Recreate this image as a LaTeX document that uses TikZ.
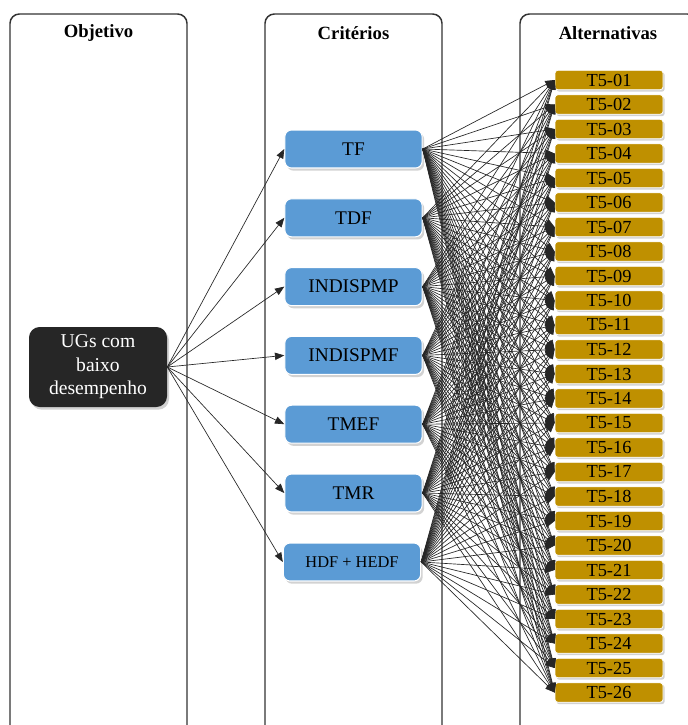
\documentclass[tikz,border=0pt]{standalone}
\usepackage{fontspec}
\setmainfont{LiberationSerif}[Extension=.ttf, UprightFont=*-Regular, BoldFont=*-Bold, ItalicFont=*-Italic, BoldItalicFont=*-BoldItalic]
\usetikzlibrary{shadows,arrows.meta}
\definecolor{critblue}{HTML}{5B9BD5}
\definecolor{altgold}{HTML}{BF9000}
\definecolor{objdark}{HTML}{262626}
\definecolor{colline}{HTML}{333333}
\tikzset{
  colbox/.style={draw=colline, line width=1.1pt, rounded corners=7pt},
  heading/.style={font=\fontsize{14}{16}\selectfont\bfseries, inner sep=0pt},
  objbox/.style={fill=objdark, text=white, rounded corners=8pt, minimum width=103.5pt, minimum height=60pt,
    align=center, font=\fontsize{14.7}{17.6}\selectfont, drop shadow={shadow xshift=1.5pt, shadow yshift=-2pt, opacity=0.35}},
  critbox/.style={fill=critblue, draw=white, line width=0.8pt, rounded corners=5pt, minimum width=103pt, minimum height=28.5pt,
    inner sep=0pt, font=\fontsize{14.5}{16}\selectfont, drop shadow={shadow xshift=1.5pt, shadow yshift=-2pt, opacity=0.35}},
  altbox/.style={fill=altgold, draw=white, line width=0.6pt, rounded corners=2pt, minimum width=81pt, minimum height=14.5pt,
    inner sep=0pt, font=\fontsize{13.8}{14}\selectfont, drop shadow={shadow xshift=1.2pt, shadow yshift=-1.5pt, opacity=0.35}},
  link/.style={draw=black!85, line width=0.5pt, -{Triangle[length=7pt,width=5.5pt]}},
}
\begin{document}
\begin{tikzpicture}[x=0.75pt, y=-0.75pt]
\clip (0,0) rectangle (688,725);
\fill[white] (0,0) rectangle (688,725);
% columns
\draw[colbox] (10,740) -- (10,14) -- (187,14) -- (187,740);
\draw[colbox] (265,740) -- (265,14) -- (442,14) -- (442,740);
\draw[colbox] (520,740) -- (520,14) -- (697,14) -- (697,740);
\node[heading] (h1) at (98.5,33) {Objetivo};
\node[heading] (h2) at (353.5,33) {Critérios};
\node[heading] (h3) at (608,33) {Alternativas};
% objective
\node[objbox] (ug) at (98,367) {UGs com\\baixo\\desempenho};
% criteria
\foreach \lab [count=\i] in {TF,TDF,INDISPMP,INDISPMF,TMEF,TMR}
  \node[critbox] (c\i) at (353.5,{149+68.8*(\i-1)}) {\lab};
\node[critbox, font=\fontsize{12.3}{14}\selectfont] (c7) at (352,562) {HDF + HEDF};
% alternatives
\foreach \i in {1,...,26}{
  \pgfmathsetmacro{\yy}{80+24.5*(\i-1)}
  \ifnum\i<10 \def\num{0\i}\else\def\num{\i}\fi
  \node[altbox] (a\i) at (609,\yy) {T5-\num};
}
% links objective -> criteria
\foreach \i in {1,...,7}
  \draw[link] (ug.east) -- (c\i.west);
% links criteria -> alternatives
\foreach \i in {1,...,7}
  \foreach \j in {1,...,26}
    \draw[link] (c\i.east) -- (a\j.west);
\end{tikzpicture}
\end{document}
